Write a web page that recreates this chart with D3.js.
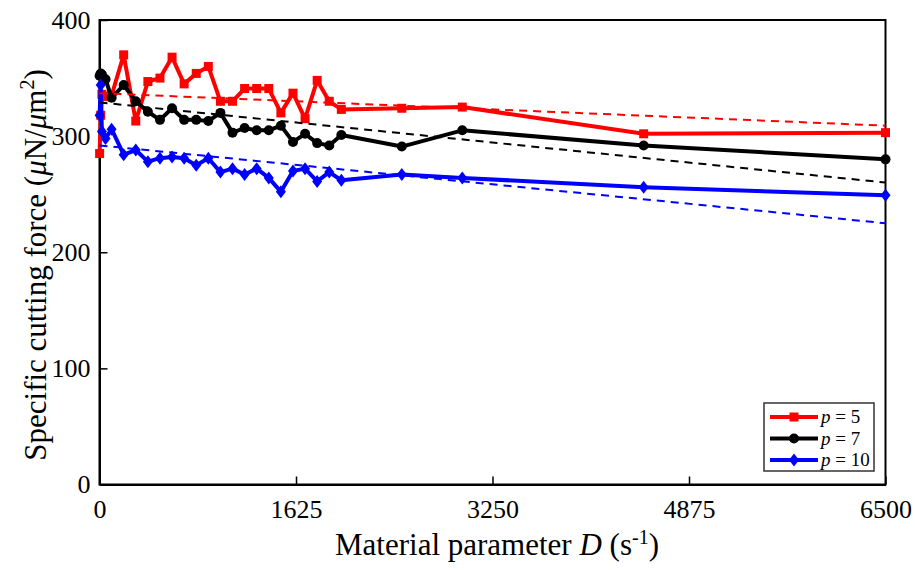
<!DOCTYPE html>
<html>
<head>
<meta charset="utf-8">
<script src="https://cdn.jsdelivr.net/npm/d3@7"></script>
<style>
  html, body { margin: 0; padding: 0; background: #fff; }
  svg { display: block; }
  text { font-family: "Liberation Serif", "Times New Roman", serif; fill: #000; }
</style>
</head>
<body>
<svg id="chart" width="915" height="570"></svg>
<script>
// Material parameter D (s^-1) sampled for each p
const dValues = [1, 10, 20, 50, 100, 200, 300, 400, 500, 600, 700, 800, 900, 1000,
  1100, 1200, 1300, 1400, 1500, 1600, 1700, 1800, 1900, 2000, 2500, 3000, 4500, 6500];

// Specific cutting force (uN/um^2)
const forceP5 = [285, 318, 336, 334, 335, 370, 313, 347, 350, 368, 345, 354, 360, 330,
  330, 341, 341, 341, 320, 337, 315, 348, 330, 323, 324, 325, 302, 303];
const forceP7 = [352, 354, 353, 349, 333, 344, 330, 321, 314, 324, 314, 314, 313, 320,
  303, 307, 305, 305, 309, 295, 302, 294, 292, 301, 291, 305, 292, 280];
const forceP10 = [318, 344, 304, 298, 306, 284, 288, 278, 281, 282, 281, 275, 281, 269,
  272, 267, 272, 264, 252, 270, 272, 261, 269, 262, 267, 264, 256, 249];

// Linear trend lines: force at D = 0 and D = 6500
const trendD = [0, 6500];
const trendP5 = [337, 309];
const trendP7 = [329, 260];
const trendP10 = [292, 225];

const seriesLabels = ["5", "7", "10"];
const xTicks = [0, 1625, 3250, 4875, 6500];
const yTicks = [0, 100, 200, 300, 400];

const svg = d3.select("#chart");
const plotLeft = 99.5, plotRight = 885.5, plotTop = 20, plotBottom = 484.5;

const x = d3.scaleLinear().domain([0, 6500]).range([plotLeft, plotRight]);
const y = d3.scaleLinear().domain([0, 400]).range([plotBottom, plotTop]);

// Frame
svg.append("rect")
  .attr("x", plotLeft).attr("y", plotTop)
  .attr("width", plotRight - plotLeft).attr("height", plotBottom - plotTop)
  .attr("fill", "none").attr("stroke", "#000").attr("stroke-width", 2);

// Axes with inward ticks
const xAxis = svg.append("g")
  .attr("transform", `translate(0,${plotBottom})`)
  .call(d3.axisBottom(x).tickValues(xTicks).tickFormat(d3.format("d"))
    .tickSizeInner(-8).tickSizeOuter(0).tickPadding(15));
const yAxis = svg.append("g")
  .attr("transform", `translate(${plotLeft},0)`)
  .call(d3.axisLeft(y).tickValues(yTicks).tickFormat(d3.format("d"))
    .tickSizeInner(-8).tickSizeOuter(0).tickPadding(9));

[xAxis, yAxis].forEach(g => {
  g.select(".domain").attr("stroke", "#000").attr("stroke-width", 2);
  g.selectAll(".tick line").attr("stroke", "#000").attr("stroke-width", 1.5);
  g.selectAll(".tick text")
    .style("font-family", '"Liberation Serif", "Times New Roman", serif')
    .style("font-size", "26px").attr("fill", "#000");
});

// Axis titles
const xTitle = svg.append("text")
  .attr("x", 497).attr("y", 555)
  .attr("text-anchor", "middle").style("font-size", "31px");
xTitle.append("tspan").text("Material parameter ");
xTitle.append("tspan").attr("font-style", "italic").text("D");
xTitle.append("tspan").text(" (s");
xTitle.append("tspan").attr("dy", -11).style("font-size", "20px").text("-1");
xTitle.append("tspan").attr("dy", 11).text(")");

const yTitle = svg.append("text")
  .attr("transform", "translate(46,265) rotate(-90)")
  .attr("text-anchor", "middle").style("font-size", "31px");
yTitle.append("tspan").text("Specific cutting force (");
yTitle.append("tspan").attr("font-style", "italic").text("μ");
yTitle.append("tspan").text("N/");
yTitle.append("tspan").attr("font-style", "italic").text("μ");
yTitle.append("tspan").text("m");
yTitle.append("tspan").attr("dy", -12).style("font-size", "20px").text("2");
yTitle.append("tspan").attr("dy", 12).text(")");

// Marker shapes
const squarePath = "M-4.5,-4.5H4.5V4.5H-4.5Z";
const circlePath = d3.symbol().type(d3.symbolCircle).size(Math.PI * 25)();
const diamondPath = "M0,-6.5L5,0L0,6.5L-5,0Z";

const series = [
  { values: forceP5, trend: trendP5, color: "#ff0000", marker: squarePath },
  { values: forceP7, trend: trendP7, color: "#000000", marker: circlePath },
  { values: forceP10, trend: trendP10, color: "#0000ff", marker: diamondPath }
];

const line = d3.line().x(d => x(d[0])).y(d => y(d[1]));

series.forEach(s => {
  const pts = dValues.map((d, i) => [d, s.values[i]]);
  svg.append("path")
    .attr("d", line(pts))
    .attr("fill", "none").attr("stroke", s.color)
    .attr("stroke-width", 4).attr("stroke-linejoin", "round");
  svg.append("g").selectAll("path")
    .data(pts).join("path")
    .attr("transform", d => `translate(${x(d[0])},${y(d[1])})`)
    .attr("d", s.marker).attr("fill", s.color);
});

// Dashed trend lines
series.forEach(s => {
  svg.append("path")
    .attr("d", line(trendD.map((d, i) => [d, s.trend[i]])))
    .attr("fill", "none").attr("stroke", s.color)
    .attr("stroke-width", 2).attr("stroke-dasharray", "8,6");
});

// Legend
const legend = svg.append("g");
legend.append("rect")
  .attr("x", 764).attr("y", 403).attr("width", 110).attr("height", 68)
  .attr("fill", "#fff").attr("stroke", "#333").attr("stroke-width", 1.5);
series.forEach((s, i) => {
  const ly = 417 + i * 21.5;
  legend.append("line")
    .attr("x1", 770).attr("x2", 818).attr("y1", ly).attr("y2", ly)
    .attr("stroke", s.color).attr("stroke-width", 4);
  legend.append("path")
    .attr("transform", `translate(794,${ly})`)
    .attr("d", s.marker).attr("fill", s.color);
  const t = legend.append("text")
    .attr("x", 821).attr("y", ly + 6).style("font-size", "19px");
  t.append("tspan").attr("font-style", "italic").text("p");
  t.append("tspan").text(" = " + seriesLabels[i]);
});
</script>
</body>
</html>
